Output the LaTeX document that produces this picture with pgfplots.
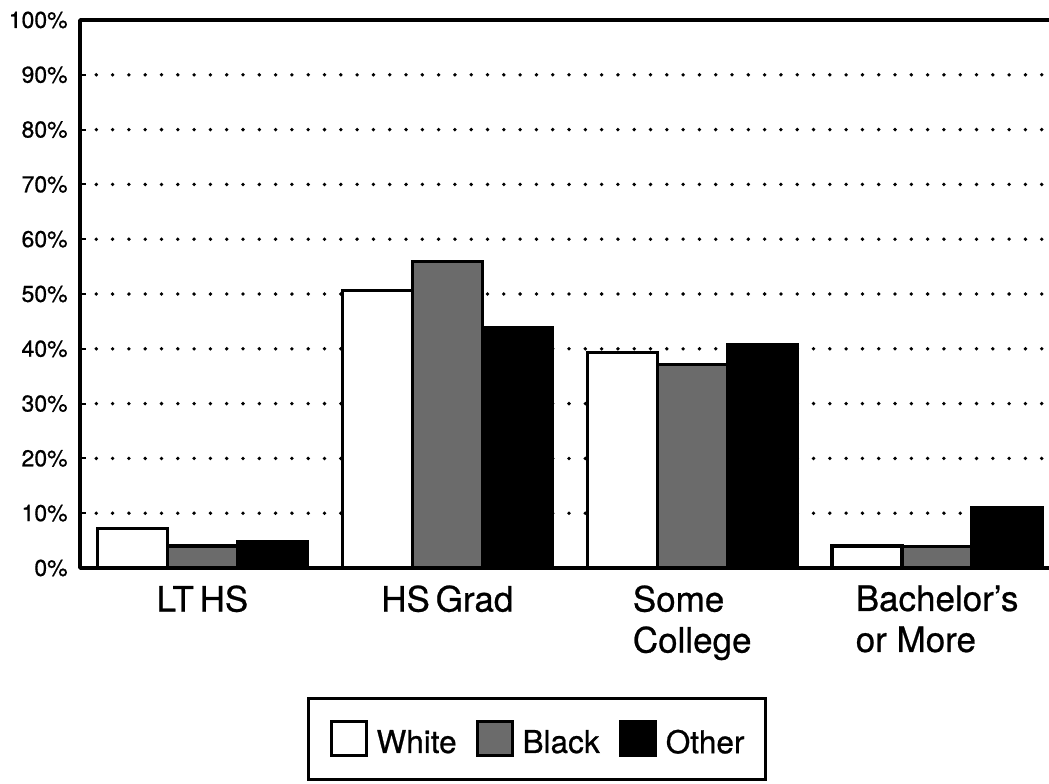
\documentclass[border=0pt]{standalone}
\usepackage{pgfplots}
\pgfplotsset{compat=1.18}
\usepackage{fontspec}
\setmainfont[FakeBold=0.7]{TeX Gyre Heros}

\begin{document}
\begin{tikzpicture}[x=1pt,y=1pt]
\useasboundingbox (0,0) rectangle (524.5,391.5);
\begin{axis}[
  at={(40pt,107.5pt)}, anchor=south west,
  scale only axis, width=484.5pt, height=274pt,
  ybar=0pt, bar width=35pt,
  xmin=-0.5, xmax=3.457, ymin=0, ymax=100,
  axis x line=box, axis y line*=left,
  axis line style={-, line width=1.7pt},
  xtick={0,1,2,3},
  xticklabels={LT\,HS, HS\,Grad, Some\\College, Bachelor's\\or More},
  xticklabel style={align=left, font=\fontsize{17.5}{20.5}\selectfont, inner sep=0pt, yshift=-5.5pt},
  xtick style={draw=none},
  xticklabel pos=lower,
  ytick={0,10,...,100},
  ytick pos=left,
  yticklabel={\pgfmathprintnumber{\tick}\%},
  yticklabel style={font=\fontsize{11.5}{13}\selectfont, inner sep=0pt, xshift=-6pt,
    /pgf/number format/assume math mode=true},
  ytick style={line width=1pt, black},
  major tick length=3pt,
  ymajorgrids,
  major grid style={line width=1.9pt, dash pattern=on 0pt off 8.15pt, line cap=round, black},
  legend columns=3,
  legend style={at={(0.4716,-0.312)}, anchor=center, draw=black, line width=1.7pt,
    inner xsep=10.5pt, inner ysep=11pt, font=\fontsize{15.75}{18}\selectfont,
    nodes={inner sep=0pt},
    /tikz/every odd column/.append style={column sep=4.5pt},
    /tikz/every even column/.append style={column sep=9.5pt}},
  legend image code/.code={\draw[#1, line width=1.5pt] (0pt,-6.5pt) rectangle (17.5pt,10.5pt);},
]
% White
\addplot[draw=black, fill=white, line width=1.6pt]
  coordinates {(0,7.2) (1,50.6) (2,39.3) (3,4.0)};
\addlegendentry{White}
% Black
\addplot[draw=black, fill=black!58, line width=1.6pt]
  coordinates {(0,4.0) (1,55.9) (2,37.2) (3,3.9)};
\addlegendentry{Black}
% Other
\addplot[draw=black, fill=black, line width=1.6pt]
  coordinates {(0,4.9) (1,43.9) (2,40.7) (3,11.0)};
\addlegendentry{Other}
\end{axis}
\end{tikzpicture}
\end{document}
